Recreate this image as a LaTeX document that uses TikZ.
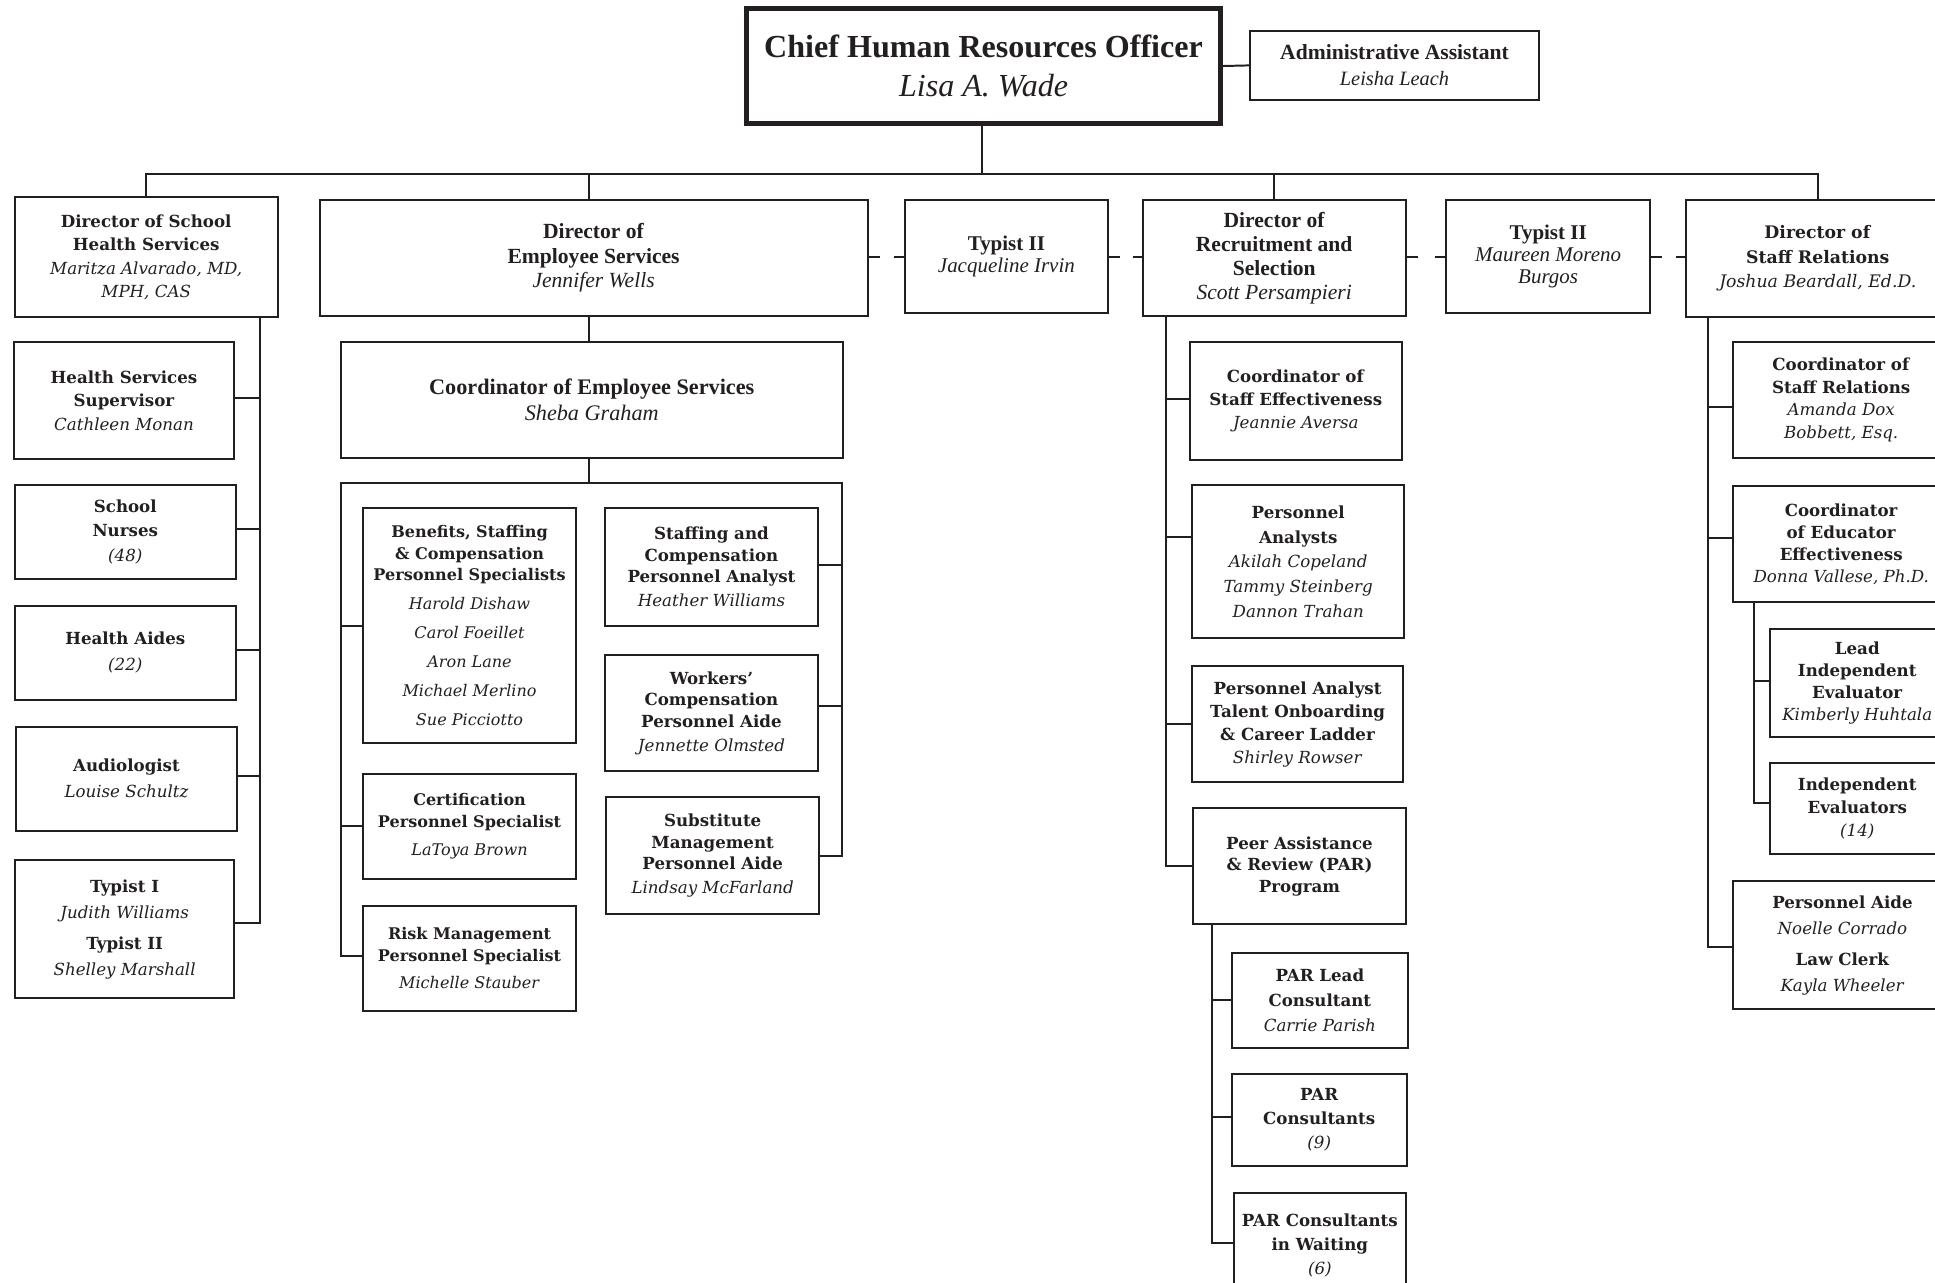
\documentclass[tikz,border=0pt]{standalone}
\usepackage{fontspec}
\setmainfont{Liberation Serif}
\newfontfamily\widefont{DejaVu Serif}
\definecolor{ink}{HTML}{231F20}
\newcommand\Tb[1]{\textbf{#1}}
\newcommand\Ti[1]{\textit{#1}}
\begin{document}
\begin{tikzpicture}[x=1pt,y=-1pt,
  box/.style={draw=ink, line width=1.6pt, text=ink, align=center, inner sep=0pt},
  bx/.style n args={4}{box, minimum width={#3-#1}, minimum height={#4-#2}, at={({(#1+#3)/2},{(#2+#4)/2})}},
  fw/.style 2 args={font=\widefont\fontsize{#1}{#2}\selectfont},
  fl/.style 2 args={font=\fontsize{#1}{#2}\selectfont},
  conn/.style={draw=ink, line width=1.6pt},
  dashline/.style={draw=ink, line width=1.6pt, dash pattern=on 9pt off #1pt on 40pt}]
\useasboundingbox (0,0) rectangle (1568,1039);
\fill[white] (0,0) rectangle (1568,1039);
\clip (0,0) rectangle (1568,1039);

% top
\node[bx={605}{7}{989}{100}, line width=3.5pt, fl={26}{32}] (chro) {\Tb{Chief Human Resources Officer}\\\Ti{Lisa A. Wade}};
\node[bx={1013}{25}{1247}{81}, fl={17.5}{21}] (admin) {\Tb{Administrative Assistant}\\\fontsize{16.5}{21}\selectfont\Ti{Leisha Leach}};

% level 2
\node[bx={12}{160}{225}{257}, fw={13.5}{19}] (D1) {\Tb{Director of School}\\\Tb{Health Services}\\\Ti{Maritza Alvarado, MD,}\\\Ti{MPH, CAS}};
\node[bx={259}{162}{703}{256}, fl={17.5}{20}] (D2) {\Tb{Director of}\\\Tb{Employee Services}\\\Ti{Jennifer Wells}};
\node[bx={733}{162}{898}{254}, fl={17}{18}] (T1) {\Tb{Typist II}\\\Ti{Jacqueline Irvin}};
\node[bx={926}{162}{1139}{256}, fl={17.5}{19.5}] (D3) {\Tb{Director of}\\\Tb{Recruitment and}\\\Tb{Selection}\\\Ti{Scott Persampieri}};
\node[bx={1172}{162}{1337}{254}, fl={17}{18}] (T2) {\Tb{Typist II}\\\Ti{Maureen Moreno}\\\Ti{Burgos}};
\node[bx={1366}{162}{1580}{257}, fw={14}{20}] (D4) {\Tb{Director of}\\\Tb{Staff Relations}\\\Ti{Joshua Beardall, Ed.D.}};

% school health column
\node[bx={11}{277}{190}{372}, fw={13.5}{19}] (HSS) {\Tb{Health Services}\\\Tb{Supervisor}\\\Ti{Cathleen Monan}};
\node[bx={12}{393}{191}{469}, fw={13.5}{20}] (SN) {\Tb{School}\\\Tb{Nurses}\\\Ti{(48)}};
\node[bx={12}{491}{191}{567}, fw={13.5}{21}] (HA) {\Tb{Health Aides}\\\Ti{(22)}};
\node[bx={13}{589}{192}{673}, fw={13.5}{21}] (AU) {\Tb{Audiologist}\\\Ti{Louise Schultz}};
\node[bx={12}{697}{190}{809}, fw={13.5}{21}] (TY) {\Tb{Typist I}\\\Ti{Judith Williams}\\[4pt]\Tb{Typist II}\\\Ti{Shelley Marshall}};

% employee services
\node[bx={276}{277}{683}{371}, fl={18}{21}] (CES) {\Tb{Coordinator of Employee Services}\\\Ti{Sheba Graham}};
\node[bx={294}{412}{467}{602}, fw={13}{17.5}] (BEN) {\Tb{Benefits, Staffing}\\\Tb{\& Compensation}\\\Tb{Personnel Specialists}\\[6pt]\Ti{Harold Dishaw}\\[6pt]\Ti{Carol Foeillet}\\[6pt]\Ti{Aron Lane}\\[6pt]\Ti{Michael Merlino}\\[6pt]\Ti{Sue Picciotto}};
\node[bx={294}{627}{467}{712}, fw={13}{17.5}] (CERT) {\Tb{Certification}\\\Tb{Personnel Specialist}\\[5pt]\Ti{LaToya Brown}};
\node[bx={294}{734}{467}{819}, fw={13}{17.5}] (RISK) {\Tb{Risk Management}\\\Tb{Personnel Specialist}\\[5pt]\Ti{Michelle Stauber}};
\node[bx={490}{412}{663}{507}, fw={13.5}{17.5}] (SC) {\Tb{Staffing and}\\\Tb{Compensation}\\\Tb{Personnel Analyst}\\[2pt]\Ti{Heather Williams}};
\node[bx={490}{531}{663}{625}, fw={13.5}{17.5}] (WC) {\Tb{Workers’}\\\Tb{Compensation}\\\Tb{Personnel Aide}\\[2pt]\Ti{Jennette Olmsted}};
\node[bx={491}{646}{664}{741}, fw={13.5}{17.5}] (SUB) {\Tb{Substitute}\\\Tb{Management}\\\Tb{Personnel Aide}\\[2pt]\Ti{Lindsay McFarland}};

% recruitment
\node[bx={964}{277}{1136}{373}, fw={13.5}{18.5}] (CSE) {\Tb{Coordinator of}\\\Tb{Staff Effectiveness}\\\Ti{Jeannie Aversa}};
\node[bx={966}{393}{1138}{517}, fw={13.5}{20}] (PA) {\Tb{Personnel}\\\Tb{Analysts}\\\Ti{Akilah Copeland}\\\Ti{Tammy Steinberg}\\\Ti{Dannon Trahan}};
\node[bx={966}{540}{1137}{634}, fw={13.5}{18.5}] (PAT) {\Tb{Personnel Analyst}\\\Tb{Talent Onboarding}\\\Tb{\& Career Ladder}\\\Ti{Shirley Rowser}};
\node[bx={967}{655}{1139}{749}, fw={13.5}{17.5}] (PAR) {\Tb{Peer Assistance}\\\Tb{\& Review (PAR)}\\\Tb{Program}};
\node[bx={998}{772}{1141}{849}, fw={13.5}{20}] (PL) {\Tb{PAR Lead}\\\Tb{Consultant}\\\Ti{Carrie Parish}};
\node[bx={998}{870}{1140}{945}, fw={13.5}{19.5}] (PC) {\Tb{PAR}\\\Tb{Consultants}\\\Ti{(9)}};
\node[bx={1000}{967}{1139}{1052}, fw={13.5}{19.5}] (PW) {\Tb{PAR Consultants}\\\Tb{in Waiting}\\\Ti{(6)}};

% staff relations
\node[bx={1404}{277}{1580}{371}, fw={13.5}{18.5}] (CSR) {\Tb{Coordinator of}\\\Tb{Staff Relations}\\\Ti{Amanda Dox}\\\Ti{Bobbett, Esq.}};
\node[bx={1404}{394}{1580}{488}, fw={13.5}{18}] (CEE) {\Tb{Coordinator}\\\Tb{of Educator}\\\Tb{Effectiveness}\\\Ti{Donna Vallese, Ph.D.}};
\node[bx={1434}{510}{1576}{597}, fw={13.5}{18}] (LIE) {\Tb{Lead}\\\Tb{Independent}\\\Tb{Evaluator}\\\Ti{Kimberly Huhtala}};
\node[bx={1434}{618}{1576}{692}, fw={13.5}{18.5}] (IE) {\Tb{Independent}\\\Tb{Evaluators}\\\Ti{(14)}};
\node[bx={1404}{714}{1582}{818}, fw={13.5}{21}] (PAL) {\Tb{Personnel Aide}\\\Ti{Noelle Corrado}\\[4pt]\Tb{Law Clerk}\\\Ti{Kayla Wheeler}};

% connectors: top
\coordinate (bus) at (796,141);
\draw[conn] (chro.east) -- (admin.west);
\draw[conn] (chro.south -| bus) -- (bus);
\draw[conn] (D1.north) -- (D1.north |- bus) -- (D4.north |- bus) -- (D4.north);
\draw[conn] ([xshift=-4pt]D2.north) -- ([xshift=-4pt]D2.north |- bus);
\draw[conn] (D3.north) -- (D3.north |- bus);
\draw[dashline=12] (D2.east |- T1.west) -- (T1.west);
\draw[dashline=10] (T1.east) -- (T1.east -| D3.west);
\draw[dashline=14] (D3.east |- T2.west) -- (T2.west);
\draw[dashline=11] (T2.east) -- (T2.east -| D4.west);

% school health connectors
\coordinate (shx) at (211,257);
\draw[conn] (D1.south -| shx) -- ([yshift=5pt]TY.east -| shx) -- ([yshift=5pt]TY.east);
\foreach \n in {HSS,SN,HA,AU} \draw[conn] ([yshift=2pt]\n.east) -- ([yshift=2pt]\n.east -| shx);

% employee services connectors
\coordinate (esT) at (477,391);
\coordinate (esL) at (276,391);
\coordinate (esR) at (682,391);
\draw[conn] (D2.south -| esT) -- (CES.north -| esT);
\draw[conn] (CES.south -| esT) -- (esT);
\draw[conn] ([yshift=2pt]RISK.west) -| (esL) -- (esR) |- (SUB.east);
\draw[conn] (BEN.west) -- (BEN.west -| esL);
\draw[conn] (CERT.west) -- (CERT.west -| esL);
\draw[conn] ([yshift=2pt]SC.east) -- ([yshift=2pt]SC.east -| esR);
\draw[conn] ([yshift=6pt]WC.east) -- ([yshift=6pt]WC.east -| esR);

% recruitment connectors
\coordinate (rx) at (945,256);
\draw[conn] (D3.south -| rx) |- (PAR.west);
\draw[conn] ([yshift=2pt]CSE.west) -- ([yshift=2pt]CSE.west -| rx);
\draw[conn] ([yshift=20pt]PA.west) -- ([yshift=20pt]PA.west -| rx);
\draw[conn] (PAT.west) -- (PAT.west -| rx);
\coordinate (px) at (982,749);
\draw[conn] (PAR.south -| px) |- ([yshift=2pt]PW.west);
\draw[conn] (PL.west) -- (PL.west -| px);
\draw[conn] ([yshift=2pt]PC.west) -- ([yshift=2pt]PC.west -| px);

% staff relations connectors
\coordinate (sx) at (1384,257);
\draw[conn] (D4.south -| sx) |- ([yshift=-1pt]PAL.west);
\draw[conn] ([yshift=-6pt]CSR.west) -- ([yshift=-6pt]CSR.west -| sx);
\draw[conn] ([yshift=5pt]CEE.west) -- ([yshift=5pt]CEE.west -| sx);
\coordinate (ex) at (1421,488);
\draw[conn] (CEE.south -| ex) |- ([yshift=4pt]IE.west);
\draw[conn] ([yshift=2pt]LIE.west) -- ([yshift=2pt]LIE.west -| ex);
\end{tikzpicture}
\end{document}
